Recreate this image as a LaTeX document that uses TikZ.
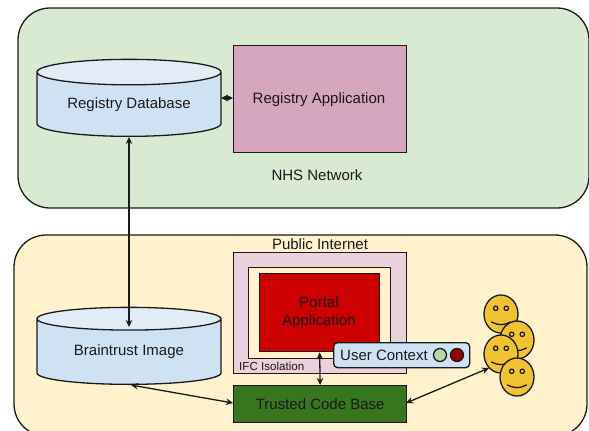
\documentclass[tikz,border=0pt]{standalone}
\usepackage{fontspec}
\setmainfont{Liberation Sans}
\usetikzlibrary{shapes.geometric,arrows.meta}
\definecolor{zonegreen}{HTML}{D9EAD3}
\definecolor{zoneyellow}{HTML}{FFF2CC}
\definecolor{dbblue}{HTML}{CFE2F3}
\definecolor{dbtop}{HTML}{E2ECF7}
\definecolor{appmauve}{HTML}{D5A6BD}
\definecolor{ifcpink}{HTML}{EAD1DC}
\definecolor{portalred}{HTML}{CC0000}
\definecolor{tcbgreen}{HTML}{38761D}
\definecolor{smiley}{HTML}{F1C232}
\definecolor{lightgreen}{HTML}{B6D7A8}
\definecolor{darkred}{HTML}{990000}
\definecolor{inkc}{HTML}{1A1A1A}
\tikzset{
  x=1pt,y=-1pt,
  outline/.style={draw=inkc,line width=1.3pt},
  labeltext/.style={font=\fontsize{15}{18}\selectfont,text=inkc,inner sep=0pt},
  zone/.style={outline,rounded corners=32pt},
  boxnode/.style={outline,rectangle,inner sep=0pt,anchor=north west},
  dbnode/.style={cylinder,shape border rotate=90,outline,aspect=0.2065,minimum width=184pt,minimum height=77pt,inner sep=0pt,anchor=south,
     cylinder uses custom fill,cylinder body fill=dbblue,cylinder end fill=dbtop,labeltext},
  link/.style={draw=inkc,line width=1.3pt,{Stealth[length=7pt,width=6.5pt]}-{Stealth[length=7pt,width=6.5pt]}},
  face/.style={outline,ellipse,fill=smiley,minimum width=34pt,minimum height=38pt,inner sep=0pt},
  eye/.style={draw=inkc,line width=1.2pt,fill=smiley},
}
\newcommand{\smileyface}[3]{%
  \node[face] (#1) at (#2,#3) {};
  \draw[eye] (#2-5.3,#3-5.7) circle[radius=2.2pt];
  \draw[eye] (#2+5.3,#3-5.7) circle[radius=2.2pt];
  \draw[outline,line cap=round] (#2-9.5,#3+8) .. controls (#2-3,#3+11.5) and (#2+3,#3+11.5) .. (#2+9.5,#3+8);
}
\begin{document}
\begin{tikzpicture}
\useasboundingbox (0,0) rectangle (589,431);
\begin{scope}
\clip (0,0) rectangle (589,431);
\draw[zone,fill=zonegreen] (18,8) rectangle (589,208);
\draw[zone,fill=zoneyellow] (14,235) rectangle (587,436);
\node[boxnode,fill=appmauve,minimum width=173pt,minimum height=107pt] (app) at (233,45) {};
\node[labeltext] (applabel) at (319,99.5) {Registry Application};
\node[labeltext] (nhs) at (317,175) {NHS Network};
\node[labeltext] (pub) at (320,244) {Public Internet};
\node[dbnode] (db) at (129,137) {Registry Database};
\node[dbnode] (bt) at (129,385) {Braintrust Image};
\node[boxnode,fill=ifcpink,minimum width=173pt,minimum height=121pt] (ifc) at (233,252) {};
\node[boxnode,fill=zoneyellow,minimum width=142pt,minimum height=91pt] (inner) at (248,267) {};
\node[boxnode,fill=portalred,minimum width=120pt,minimum height=78pt] (portal) at (259,273) {};
\node[labeltext,align=center] (portallabel) at (319,313) {Portal\\Application};
\node[labeltext,font=\fontsize{11.6}{13}\selectfont,anchor=west] (ifclabel) at (239,366) {IFC Isolation};
\node[boxnode,fill=tcbgreen,minimum width=173pt,minimum height=37pt,labeltext] (tcb) at (233,385) {Trusted Code Base};
\coordinate (btin) at (129,327);
\coordinate (btout) at (131,385);
\coordinate (crowd) at (489,368);
\coordinate (tcbr) at (406,403);
\coordinate (tcbl) at (233,403);
\coordinate (dbr) at (221,98);
\coordinate (appl) at (233,98);
\draw[link] (dbr) -- (appl);
\draw[link] (db.south) -- (btin);
\draw[link] (portal.south) -- (tcb.north);
\draw[link] (btout) -- (tcbl);
\draw[link] (tcbr) -- (crowd);
\node[outline,rectangle,rounded corners=4pt,fill=dbblue,minimum width=136pt,minimum height=25pt,inner sep=0pt,anchor=north west] (ctx) at (333,342) {};
\node[labeltext,anchor=west] (ctxlabel) at (340,355) {User Context};
\node[outline,circle,fill=lightgreen,minimum size=13pt,inner sep=0pt] (g) at (440,355) {};
\node[outline,circle,fill=darkred,minimum size=13pt,inner sep=0pt] (r) at (457,355) {};
\smileyface{s1}{501}{314}
\smileyface{s2}{517}{340}
\smileyface{s3}{501}{354}
\smileyface{s4}{517}{377}
\end{scope}
\end{tikzpicture}
\end{document}
